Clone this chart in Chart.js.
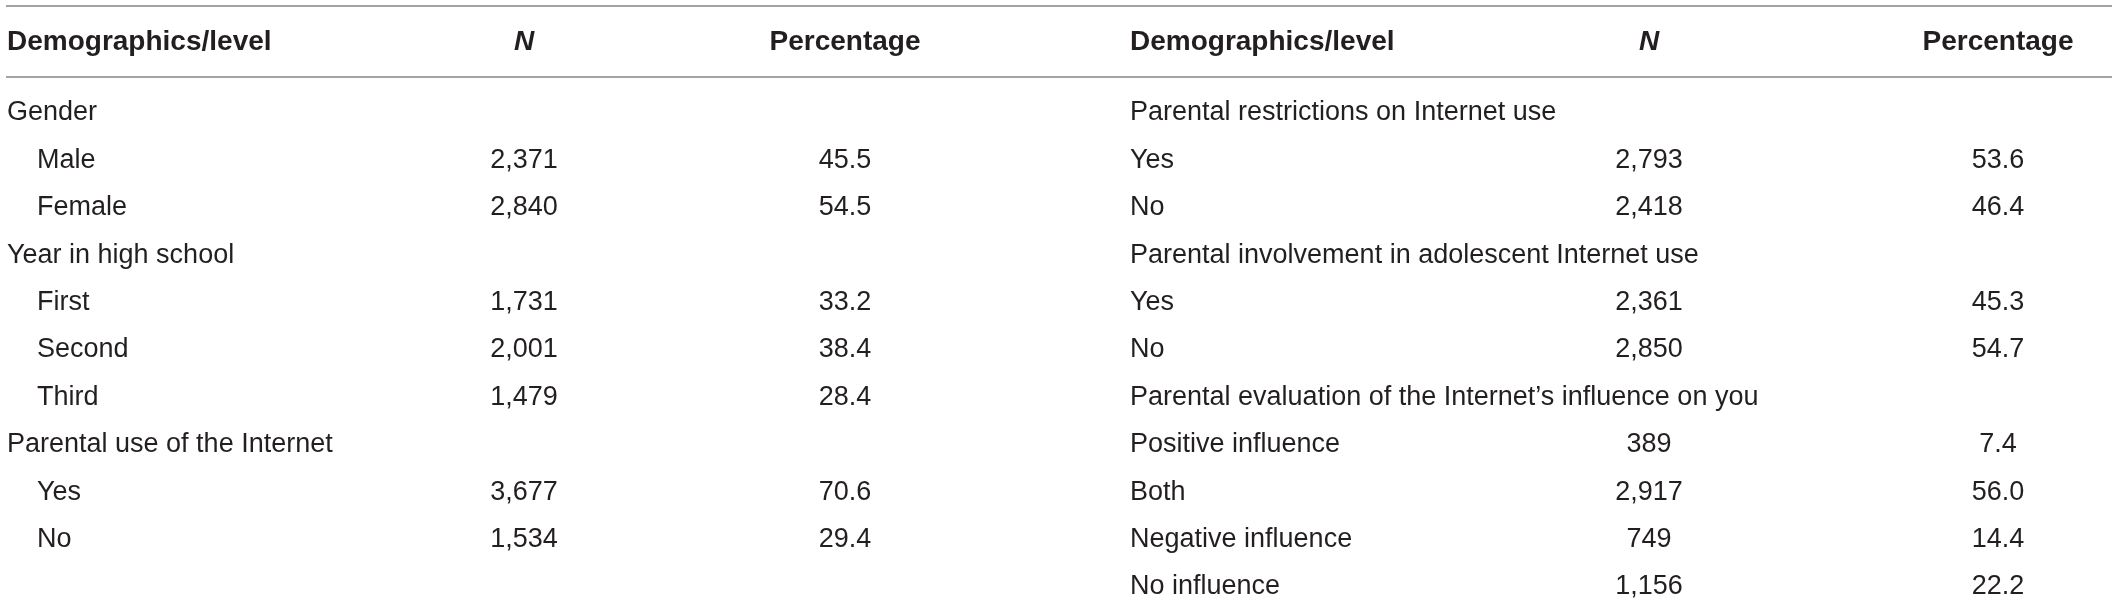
<!DOCTYPE html>
<html>
<head>
<meta charset="utf-8">
<script src="https://cdn.jsdelivr.net/npm/chart.js@4"></script>
<style>
  html, body { margin: 0; padding: 0; background: #fff; }
  #tableChart { display: block; }
</style>
</head>
<body>
<canvas id="tableChart" width="2118" height="605"></canvas>
<script>
// Demographics table, drawn as a chart

const headers = ["Demographics/level", "N", "Percentage"];

const leftLabels = ["Gender", "Male", "Female", "Year in high school", "First", "Second", "Third",
  "Parental use of the Internet", "Yes", "No"];
const leftN = [null, 2371, 2840, null, 1731, 2001, 1479, null, 3677, 1534];
const leftPct = [null, 45.5, 54.5, null, 33.2, 38.4, 28.4, null, 70.6, 29.4];

const rightLabels = ["Parental restrictions on Internet use", "Yes", "No",
  "Parental involvement in adolescent Internet use", "Yes", "No",
  "Parental evaluation of the Internet\u2019s influence on you",
  "Positive influence", "Both", "Negative influence", "No influence"];
const rightN = [null, 2793, 2418, null, 2361, 2850, null, 389, 2917, 749, 1156];
const rightPct = [null, 53.6, 46.4, null, 45.3, 54.7, null, 7.4, 56.0, 14.4, 22.2];

// layout (x in canvas px units, y in row units)
const COL = { lLabel: 7, lIndent: 37, lN: 524, lPct: 845, rLabel: 1130, rN: 1649, rPct: 1998 };
const HEADER_ROW = -1.5;
const RULES = [-2.26, -0.76];
const FAMILY = '"Liberation Sans", Arial, Helvetica, sans-serif';
const TEXT = "#231f20";

const fmtN = v => v.toLocaleString("en-US");
const fmtPct = v => v.toFixed(1);

function textSet(xs, rows, texts, align, font) {
  return {
    type: "scatter",
    data: rows.map((r, i) => ({ x: xs[i], y: r })),
    texts: texts,
    align: align,
    font: font,
    pointRadius: 0,
    pointHoverRadius: 0
  };
}

function valueSet(values, x, fmt) {
  const rows = [], xs = [], texts = [];
  values.forEach((v, i) => {
    if (v === null) return;
    rows.push(i); xs.push(x); texts.push(fmt(v));
  });
  return textSet(xs, rows, texts, "center", "27px " + FAMILY);
}

const bodyFont = "27px " + FAMILY;
const boldFont = "bold 28px " + FAMILY;

const datasets = [
  // header rules
  ...RULES.map(y => ({
    type: "line",
    data: [{ x: 6, y: y }, { x: 2112, y: y }],
    borderColor: "#a3a3a3",
    borderWidth: 2,
    pointRadius: 0,
    fill: false
  })),
  // headers
  textSet([COL.lLabel, COL.rLabel], [HEADER_ROW, HEADER_ROW], [headers[0], headers[0]], "left", boldFont),
  textSet([COL.lN, COL.rN], [HEADER_ROW, HEADER_ROW], [headers[1], headers[1]], "center", "italic " + boldFont),
  textSet([COL.lPct, COL.rPct], [HEADER_ROW, HEADER_ROW], [headers[2], headers[2]], "center", boldFont),
  // left table
  textSet(leftLabels.map((t, i) => leftN[i] === null ? COL.lLabel : COL.lIndent),
    leftLabels.map((t, i) => i), leftLabels, "left", bodyFont),
  valueSet(leftN, COL.lN, fmtN),
  valueSet(leftPct, COL.lPct, fmtPct),
  // right table
  textSet(rightLabels.map(() => COL.rLabel), rightLabels.map((t, i) => i), rightLabels, "left", bodyFont),
  valueSet(rightN, COL.rN, fmtN),
  valueSet(rightPct, COL.rPct, fmtPct)
];

const cellText = {
  id: "cellText",
  afterDatasetsDraw(chart) {
    const ctx = chart.ctx;
    chart.data.datasets.forEach((ds, i) => {
      if (!ds.texts) return;
      const meta = chart.getDatasetMeta(i);
      ctx.save();
      ctx.font = ds.font;
      ctx.fillStyle = TEXT;
      ctx.textAlign = ds.align;
      ctx.textBaseline = "middle";
      meta.data.forEach((pt, j) => ctx.fillText(ds.texts[j], pt.x, pt.y));
      ctx.restore();
    });
  }
};

const canvas = document.getElementById("tableChart");
new Chart(canvas.getContext("2d"), {
  type: "scatter",
  data: { datasets: datasets },
  options: {
    responsive: false,
    devicePixelRatio: 1,
    animation: false,
    layout: { padding: 0 },
    plugins: { legend: { display: false }, tooltip: { enabled: false } },
    scales: {
      x: { type: "linear", min: 0, max: 2118, display: false },
      y: { type: "linear", min: -2.384, max: 10.38, reverse: true, display: false }
    }
  },
  plugins: [cellText]
});
</script>
</body>
</html>
